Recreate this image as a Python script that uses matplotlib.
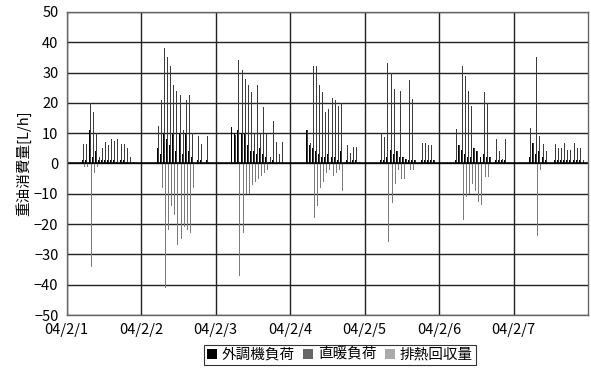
import numpy as np
import matplotlib.pyplot as plt
from matplotlib.patches import Patch

plt.rcParams['font.family'] = ['Noto Sans CJK JP', 'DejaVu Sans']

# hourly values, one list of 24 per day (04/2/1 - 04/2/7)
gaichoki = [
    [0, 0, 0, 0, 0, 1, 1, 11, 2, 4, 1, 1, 1, 1, 1, 1, 0.5, 1, 1, 0.5, 0, 0, 0, 0],
    [0, 0, 0, 0, 0, 5, 3, 10, 8, 6, 10, 4, 10, 3, 10, 4, 2, 0, 1, 1, 0, 1, 0, 0],
    [0, 0, 0, 0, 0, 12, 10, 11, 10, 10, 6, 4, 4, 3, 5, 3, 2, 0.5, 1, 0, 0, 0, 0, 0],
    [0, 0, 0, 0, 0, 11, 6, 5, 4, 3, 2, 2, 3, 2, 2, 1, 4, 0, 1, 0.5, 1, 1, 0, 0],
    [0, 0, 0, 0, 0, 1, 1, 2, 4.4, 3, 4, 2, 2, 1.5, 1, 1, 1, 0, 1, 1, 1, 1, 1, 0],
    [0, 0, 0, 0, 0, 1, 6, 4.4, 3, 2, 2, 5, 4, 2, 3, 2, 2, 0, 1, 1, 1, 1, 0, 0],
    [0, 0, 0, 0, 0, 2, 6.8, 3, 4, 2, 1, 0, 0, 1, 1, 1, 1, 1, 1, 1, 1, 1, 0, 0],
]
chokudan = [
    [0, 0, 0, 0, 0, 6.5, 6.5, 20, 17, 10, 2, 5, 7, 6, 8, 7.5, 8, 6.5, 6.5, 5, 2, 0.5, 0, 0],
    [0, 0, 0, 0, 0, 12.5, 21, 38, 35, 32, 26, 24, 22.5, 11, 21, 22.5, 10, 0, 9, 6.5, 0, 9, 0, 0],
    [0, 0, 0, 0, 0, 0, 9.5, 34, 31, 28, 26, 23.5, 10, 26, 10, 18.5, 10, 2, 14, 7, 3, 7, 0, 0],
    [0, 0, 0, 0, 0, 11, 6.6, 32, 32, 26, 23.5, 17, 18, 21.5, 21, 19, 20, 0, 6, 3.3, 5.5, 5.5, 0.5, 0],
    [0, 0, 0, 0, 0, 10, 8.6, 33, 30, 24.7, 4, 24, 2, 1.5, 27.5, 21.4, 1, 0, 6.6, 6.6, 6, 6, 1, 0],
    [0, 0, 0, 0, 0, 11.5, 6, 32, 29, 24, 19, 5, 4, 16.5, 23.6, 20, 2, 0, 8, 4, 1.5, 8, 0, 0],
    [0, 0, 0, 0, 0, 11.7, 6.8, 35, 9, 6.3, 4, 0, 0, 6.3, 5, 5, 6.8, 4.6, 4.6, 6.8, 5, 5, 1, 0],
]
hainetsu = [
    [0, 0, 0, 0, 0, -1, -1, -34, -3, -1, 0, 0, 0, 0, 0, 0, 0, 0, 0, 0, 0, 0, 0, 0],
    [0, 0, 0, 0, 0, 0, -8, -41, -22, -14, -17, -27, -25, -21, -22, -23, -8, 0, 0, 0, 0, 0, 0, 0],
    [0, 0, 0, 0, 0, 0, 0, -37, -23, -10, -10, -7, -6, -5, -4, -3, -2, 0, 0, 0, 0, 0, 0, 0],
    [0, 0, 0, 0, 0, 0, 0, -18, -14, -8, -6, -3, -2, -4, -3, -2, -9, 0, 0, 0, 0, 0, 0, 0],
    [0, 0, 0, 0, 0, 0, 0, -26, -13, -6.6, -2, -5, -5, 0, -2, -2, 0, 0, 0, 0, 0, 0, 0, 0],
    [0, 0, 0, 0, 0, 0, 0, -18.7, -11, -10, -6.6, -9, -12.6, -13.7, -4.4, -4.4, 0, 0, 0, 0, 0, 0, 0, 0],
    [0, 0, 0, 0, 0, 0, 0, -24, -2, 0, 0, 0, 0, 0, 0, 0, 0, 0, 0, 0, 0, 0, 0, 0],
]
day_labels = ['04/2/1', '04/2/2', '04/2/3', '04/2/4', '04/2/5', '04/2/6', '04/2/7']
legend_labels = ['外調機負荷', '直暖負荷', '排熱回収量']

g = np.concatenate(gaichoki)
c = np.concatenate(chokudan)
h = np.concatenate(hainetsu)
x = np.arange(len(g))

fig = plt.figure(figsize=(5.91, 3.72), dpi=100)
ax = fig.add_axes([0.113, 0.153, 0.882, 0.815])

w = 0.32
ax.bar(x - w, g, width=w, color='black', linewidth=0)
ax.bar(x, c, width=w, color='#3c3c3c', linewidth=0)
ax.bar(x + w, h, width=w, color='#7a7a7a', linewidth=0)

ax.set_xlim(-0.5, len(g) - 0.5)
ax.set_ylim(-50, 50)
ax.set_yticks(range(-50, 51, 10))
ticks = [-0.5 + 24 * i for i in range(len(day_labels))]
ax.set_xticks(ticks)
ax.set_xticklabels(day_labels, fontsize=10.5)
ax.tick_params(axis='y', labelsize=10.5, length=0, pad=6)
ax.tick_params(axis='x', length=0, pad=6)
ax.grid(True, color='#222222', linewidth=1.0)
ax.set_axisbelow(True)
for s in ax.spines.values():
    s.set_color('#666666')
    s.set_linewidth(1.0)
ax.axhline(0, color='black', linewidth=1.1)
ax.set_ylabel('重油消費量[L/h]', fontsize=10.5, labelpad=2)

handles = [Patch(facecolor='black'), Patch(facecolor='#666666'), Patch(facecolor='#aaaaaa')]
leg = fig.legend(handles, legend_labels, loc='center', bbox_to_anchor=(0.575, 0.046),
                 ncol=3, fontsize=10.5, frameon=True, fancybox=False,
                 handlelength=0.7, handleheight=0.7, handletextpad=0.3,
                 columnspacing=0.6, borderpad=0.2, borderaxespad=0)
leg.get_frame().set_edgecolor('black')
leg.get_frame().set_linewidth(0.8)

fig.savefig('out.png', dpi=100)
